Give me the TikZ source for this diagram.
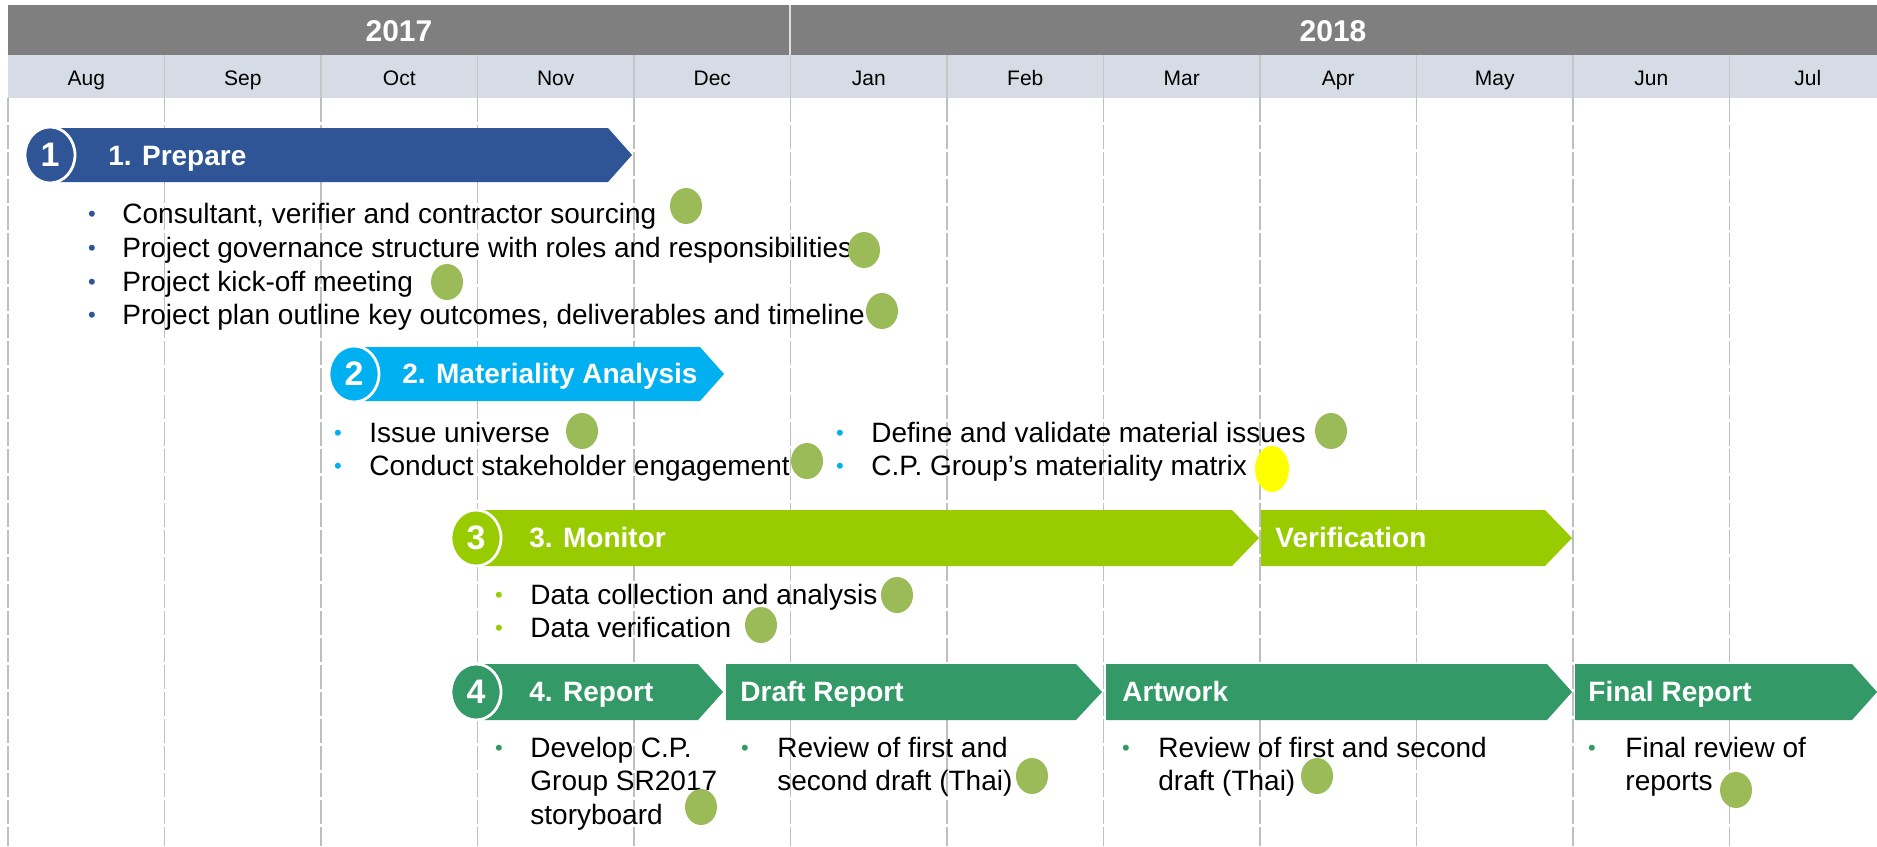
\documentclass[tikz,border=0pt]{standalone}
\usepackage{fontspec}
\setmainfont{Liberation Sans}
\usetikzlibrary{shapes.geometric}
\definecolor{hdrgray}{HTML}{7F7F7F}
\definecolor{monthbg}{HTML}{D6DCE5}
\definecolor{gridc}{HTML}{BFBFBF}
\definecolor{cblue}{HTML}{2F5597}
\definecolor{ccyan}{HTML}{00B0F0}
\definecolor{clime}{HTML}{99CC00}
\definecolor{cgreen}{HTML}{339966}
\definecolor{dotgreen}{HTML}{9BBB59}
\definecolor{dotyellow}{HTML}{FFFF00}
\begin{document}
\begin{tikzpicture}[x=0.5pt,y=-0.5pt,
  month/.style={font=\fontsize{10.5}{12}\selectfont, text=black, inner sep=0pt, text height=7.6pt, text depth=2.2pt, yshift=-1.2pt},
  year/.style={font=\fontsize{15}{18}\selectfont\bfseries, text=white, inner sep=0pt},
  gridline/.style={draw=gridc, line width=0.6pt, dash pattern=on 12pt off 1.5pt},
  numcirc/.style={ellipse, minimum width=25pt, minimum height=28pt, inner sep=0pt,
    draw=white, line width=1.4pt, text=white, font=\fontsize{17}{20}\selectfont\bfseries},
  ttl/.style={anchor=west, inner sep=0pt, text=white, font=\fontsize{14}{16.8}\selectfont\bfseries, text height=10pt, text depth=3pt, yshift=-1.2pt},
  txt/.style={anchor=west, inner sep=0pt, text=black, font=\fontsize{14}{16.8}\selectfont, text height=10pt, text depth=3pt, yshift=-1.2pt},
  bul/.style={inner sep=0pt, font=\fontsize{11}{12}\selectfont, yshift=-1.2pt},
  gdot/.style={ellipse, fill=dotgreen, minimum width=16pt, minimum height=18pt, inner sep=0pt},
  ydot/.style={ellipse, fill=dotyellow, minimum width=17pt, minimum height=23pt, inner sep=0pt}
]
\useasboundingbox (0,0) rectangle (1877,846);
\fill[white] (0,0) rectangle (1877,846);

% header
\fill[hdrgray] (8,5) rectangle (1877,55);
\fill[monthbg] (8,55) rectangle (1877,98);
\draw[white!75!hdrgray, line width=0.8pt] (790,5) -- (790,55);
\foreach \i in {1,...,11} \draw[gray!45, line width=0.8pt] ({8+156.5*\i},55) -- ({8+156.5*\i},98);
\node[year] (y2017) at (399,31) {2017};
\node[year] (y2018) at (1333,31) {2018};
\foreach \m [count=\i from 0] in {Aug,Sep,Oct,Nov,Dec,Jan,Feb,Mar,Apr,May,Jun,Jul}
  \node[month] (m\i) at ({8+156.5*\i+78.25},78) {\m};

% grid
\foreach \i in {0,...,11} \draw[gridline] ({8+156.5*\i},98) -- ({8+156.5*\i},846);

% phase 1
\fill[cblue] (50,128) -- (608,128) -- (632,155) -- (608,182) -- (50,182) -- cycle;
\node[numcirc, fill=cblue] (c1) at (50,155) {1};
\node[ttl] (t1) at (108,156) {1. Prepare};
\foreach \y/\t [count=\k] in {214/{Consultant, verifier and contractor sourcing},
  248/{Project governance structure with roles and responsibilities},
  282/{Project kick-off meeting},
  315/{Project plan outline key outcomes, deliverables and timeline}} {
  \node[bul, text=cblue] (b1\k) at (92,\y) {\textbullet};
  \node[txt] (p1\k) at (122,\y) {\t};
}
\node[gdot] (d11) at (686,206) {};
\node[gdot] (d12) at (864,250) {};
\node[gdot] (d13) at (447,282) {};
\node[gdot] (d14) at (882,311) {};

% phase 2
\fill[ccyan] (354,347) -- (700,347) -- (724,374) -- (700,401) -- (354,401) -- cycle;
\node[numcirc, fill=ccyan] (c2) at (354,374) {2};
\node[ttl] (t2) at (402,374) {2. Materiality Analysis};
\node[bul, text=ccyan] (b21) at (338,433) {\textbullet};
\node[txt] (p21) at (369,433) {Issue universe};
\node[bul, text=ccyan] (b22) at (338,466) {\textbullet};
\node[txt] (p22) at (369,466) {Conduct stakeholder engagement};
\node[bul, text=ccyan] (b23) at (840,433) {\textbullet};
\node[txt] (p23) at (871,433) {Define and validate material issues};
\node[bul, text=ccyan] (b24) at (840,466) {\textbullet};
\node[txt] (p24) at (871,466) {C.P. Group’s materiality matrix};
\node[gdot] (d21) at (582,431) {};
\node[gdot] (d22) at (807,461) {};
\node[gdot] (d23) at (1331,431) {};
\node[ydot] (d24) at (1272,469) {};

% phase 3
\fill[clime] (476,510) -- (1232,510) -- (1259,538) -- (1232,566) -- (476,566) -- cycle;
\fill[clime] (1261,510) -- (1545,510) -- (1572,538) -- (1545,566) -- (1261,566) -- cycle;
\node[numcirc, fill=clime] (c3) at (476,538) {3};
\node[ttl] (t3) at (529,538) {3. Monitor};
\node[ttl] (t3b) at (1275,538) {Verification};
\node[bul, text=clime] (b31) at (499,595) {\textbullet};
\node[txt] (p31) at (530,595) {Data collection and analysis};
\node[bul, text=clime] (b32) at (499,628) {\textbullet};
\node[txt] (p32) at (530,628) {Data verification};
\node[gdot] (d31) at (897,595) {};
\node[gdot] (d32) at (761,625) {};

% phase 4
\fill[cgreen] (476,664) -- (698,664) -- (723,692) -- (698,720) -- (476,720) -- cycle;
\fill[cgreen] (726,664) -- (1076,664) -- (1102,692) -- (1076,720) -- (726,720) -- cycle;
\fill[cgreen] (1106,664) -- (1547,664) -- (1572,692) -- (1547,720) -- (1106,720) -- cycle;
\fill[cgreen] (1575,664) -- (1852,664) -- (1877,692) -- (1852,720) -- (1575,720) -- cycle;
\node[numcirc, fill=cgreen] (c4) at (476,692) {4};
\node[ttl] (t4) at (529,692) {4. Report};
\node[ttl] (t4b) at (740,692) {Draft Report};
\node[ttl] (t4c) at (1122,692) {Artwork};
\node[ttl] (t4d) at (1588,692) {Final Report};

\node[bul, text=cgreen] (b41) at (499,748) {\textbullet};
\node[txt] (p41a) at (530,748) {Develop C.P.};
\node[txt] (p41b) at (530,781) {Group SR2017};
\node[txt] (p41c) at (530,815) {storyboard};
\node[bul, text=cgreen] (b42) at (745,748) {\textbullet};
\node[txt] (p42a) at (777,748) {Review of first and};
\node[txt] (p42b) at (777,781) {second draft (Thai)};
\node[bul, text=cgreen] (b43) at (1126,748) {\textbullet};
\node[txt] (p43a) at (1158,748) {Review of first and second};
\node[txt] (p43b) at (1158,781) {draft (Thai)};
\node[bul, text=cgreen] (b44) at (1592,748) {\textbullet};
\node[txt] (p44a) at (1625,748) {Final review of};
\node[txt] (p44b) at (1625,781) {reports};
\node[gdot] (d41) at (701,807) {};
\node[gdot] (d42) at (1032,776) {};
\node[gdot] (d43) at (1317,776) {};
\node[gdot] (d44) at (1736,790) {};
\end{tikzpicture}
\end{document}
